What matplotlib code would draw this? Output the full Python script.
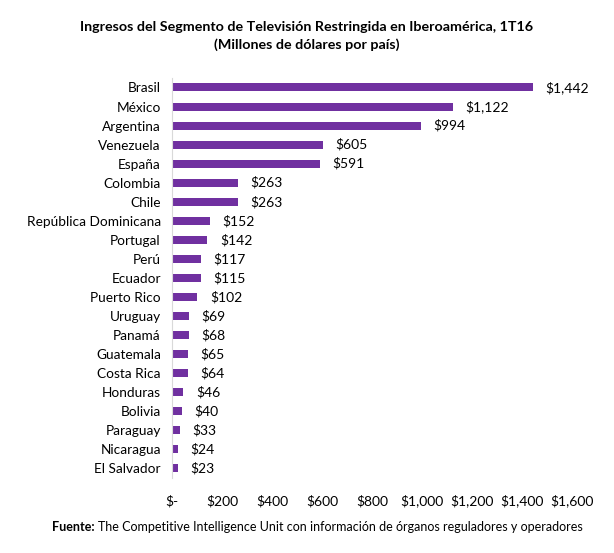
import matplotlib.pyplot as plt
from matplotlib.ticker import FuncFormatter

paises = ["Brasil", "México", "Argentina", "Venezuela", "España", "Colombia", "Chile",
          "República Dominicana", "Portugal", "Perú", "Ecuador", "Puerto Rico", "Uruguay",
          "Panamá", "Guatemala", "Costa Rica", "Honduras", "Bolivia", "Paraguay",
          "Nicaragua", "El Salvador"]
ingresos = [1442, 1122, 994, 605, 591, 263, 263, 152, 142, 117, 115, 102, 69,
            68, 65, 64, 46, 40, 33, 24, 23]
ticks = [0, 200, 400, 600, 800, 1000, 1200, 1400, 1600]

plt.rcParams['font.family'] = ['Lato', 'DejaVu Sans']

fig = plt.figure(figsize=(6.14, 5.53), dpi=100)
ax = fig.add_axes([0.280, 0.1356, 0.652, 0.7234])

pos = list(range(len(paises)))
ax.barh(pos, ingresos, height=0.42, color="#7030A0")
for p, v in zip(pos, ingresos):
    ax.annotate(f"${v:,}", (v, p), xytext=(9, 0), textcoords="offset points",
                va="center", ha="left", fontsize=10)

ax.set_yticks(pos)
ax.set_yticklabels(paises, fontsize=9.8)
ax.set_ylim(len(paises) - 0.5, -0.5)
ax.set_xlim(0, 1600)
ax.set_xticks(ticks)
ax.xaxis.set_major_formatter(FuncFormatter(lambda x, _: "$-" if x == 0 else f"${x:,.0f}"))
ax.tick_params(axis="x", labelsize=10, length=0, pad=12)
ax.tick_params(axis="y", length=0, pad=8)
for s in ["top", "right", "bottom"]:
    ax.spines[s].set_visible(False)
ax.spines["left"].set_color("#d9d9d9")

fig.text(0.5, 0.935, "Ingresos del Segmento de Televisión Restringida en Iberoamérica, 1T16\n(Millones de dólares por país)",
         ha="center", va="center", fontsize=10.3, fontweight="bold", linespacing=1.5)

# footer: bold "Fuente:" followed by the normal text
fuente = fig.text(0.085, 0.047, "Fuente:", fontsize=9, fontweight="bold", va="center")
fig.canvas.draw()
bb = fuente.get_window_extent().transformed(fig.transFigure.inverted())
fig.text(bb.x1 + 0.006, 0.047, "The Competitive Intelligence Unit con información de órganos reguladores y operadores",
         fontsize=9, va="center")

fig.savefig("out.png", dpi=100)
